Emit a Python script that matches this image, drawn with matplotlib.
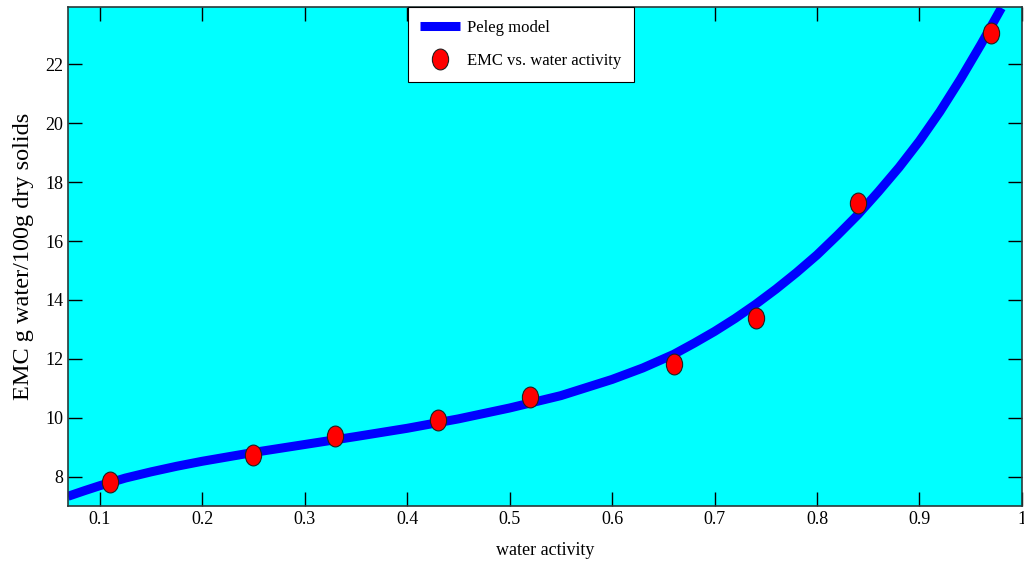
import matplotlib
matplotlib.use('Agg')
import matplotlib.pyplot as plt
from matplotlib.path import Path
from matplotlib.transforms import Affine2D

plt.rcParams['font.family'] = ['Liberation Serif', 'DejaVu Serif']

aw_data = [0.11, 0.25, 0.33, 0.43, 0.52, 0.66, 0.74, 0.84, 0.97]
emc_data = [7.82, 8.72, 9.39, 9.92, 10.71, 11.84, 13.40, 17.31, 23.08]

# Peleg model curve
aw_model = [0.069, 0.085, 0.1, 0.125, 0.15, 0.175, 0.2, 0.25, 0.3, 0.35, 0.4,
            0.45, 0.5, 0.55, 0.6, 0.63, 0.66, 0.68, 0.7, 0.72, 0.74, 0.76,
            0.78, 0.8, 0.82, 0.84, 0.86, 0.88, 0.9, 0.92, 0.94, 0.96, 0.98]
emc_model = [7.33, 7.52, 7.69, 7.95, 8.16, 8.35, 8.52, 8.82, 9.09, 9.36, 9.64,
             9.96, 10.33, 10.75, 11.3, 11.69, 12.15, 12.53, 12.93, 13.37, 13.85, 14.37,
             14.93, 15.53, 16.2, 16.9, 17.68, 18.5, 19.4, 20.4, 21.5, 22.68, 23.92]

xticks = [0.1, 0.2, 0.3, 0.4, 0.5, 0.6, 0.7, 0.8, 0.9, 1.0]
xticklabels = ['0.1', '0.2', '0.3', '0.4', '0.5', '0.6', '0.7', '0.8', '0.9', '1']
yticks = [8, 10, 12, 14, 16, 18, 20, 22]

# slightly tall oval marker, like the stretched original
oval = Path.unit_circle().transformed(Affine2D().scale(0.78, 1.0))

fig = plt.figure(figsize=(10.24, 5.63), dpi=100)
ax = fig.add_axes([0.0664, 0.1012, 0.9316, 0.8863])
ax.set_facecolor('#00FFFF')

ax.plot(aw_model, emc_model, color='#0000FF', linewidth=6.5, label='Peleg model',
        solid_capstyle='butt', solid_joinstyle='round', zorder=2)
ax.plot(aw_data, emc_data, linestyle='none', marker=oval, markersize=15,
        markerfacecolor='#FF0000', markeredgecolor='#202020', markeredgewidth=0.8,
        label='EMC vs. water activity', zorder=3)

ax.set_xlim(0.069, 1.0)
ax.set_ylim(7.0, 23.95)
ax.set_xticks(xticks)
ax.set_xticklabels(xticklabels)
ax.set_yticks(yticks)
ax.tick_params(direction='in', length=10, width=1, top=True, right=True,
               labelsize=13, colors='black')
for s in ax.spines.values():
    s.set_color('#2a3a3a')
    s.set_linewidth(1.2)

ax.set_xlabel('water activity', fontsize=13, labelpad=10)
ax.set_ylabel('EMC g water/100g dry solids', fontsize=17.5, labelpad=8)

leg = ax.legend(loc='upper left', bbox_to_anchor=(0.356, 1.0), borderaxespad=0,
                fontsize=12, fancybox=False, framealpha=1, edgecolor='black',
                borderpad=0.75, handlelength=2.4, handletextpad=0.4,
                labelspacing=1.05)
leg.get_frame().set_linewidth(0.8)

plt.savefig('out.png', dpi=100, facecolor='white')
plt.close()
